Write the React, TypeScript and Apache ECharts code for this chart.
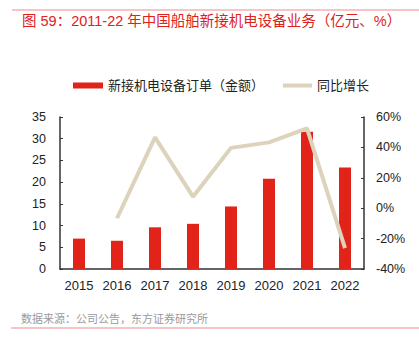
import React, { useEffect, useRef } from "react";
import * as echarts from "echarts";

const years = ["2015", "2016", "2017", "2018", "2019", "2020", "2021", "2022"];
const orders = [7.0, 6.5, 9.6, 10.4, 14.4, 20.8, 31.6, 23.4];
const growth = [null, -6.6, 46.6, 7.6, 39.7, 43.3, 52.5, -26.2];

const titleText = "图 59：2011-22 年中国船舶新接机电设备业务（亿元、%）";
const sourceText = "数据来源：公司公告，东方证券研究所";
const barName = "新接机电设备订单（金额）";
const lineName = "同比增长";

const FONT = "'Liberation Sans', Arial, 'Noto Sans CJK SC', sans-serif";

export default function App() {
  const ref = useRef<HTMLDivElement>(null);
  useEffect(() => {
    const chart = echarts.init(ref.current!, null, { renderer: "svg" });
    chart.setOption({
      animation: false,
      textStyle: { fontFamily: FONT },
      graphic: [
        { type: "line", shape: { x1: 12, y1: 10, x2: 419, y2: 10 }, style: { stroke: "#EE8A8A", lineWidth: 1 } },
        { type: "line", shape: { x1: 11, y1: 328, x2: 419, y2: 328 }, style: { stroke: "#EE8A8A", lineWidth: 1 } },
        {
          type: "text", left: 22, top: 13.5,
          style: { text: titleText, fill: "#E0201B", font: `14.5px ${FONT}` },
        },
        {
          type: "text", left: 21, top: 313,
          style: { text: sourceText, fill: "#9A9A9A", font: `11px ${FONT}` },
        },
      ],
      legend: [
        {
          left: 73, top: 79, padding: 0, itemWidth: 30, itemHeight: 6, icon: "rect",
          data: [barName], textStyle: { fontSize: 13, color: "#222", fontFamily: FONT },
        },
        {
          left: 283, top: 79, padding: 0, itemWidth: 29, itemHeight: 4, icon: "rect",
          data: [lineName], textStyle: { fontSize: 13, color: "#222", fontFamily: FONT },
        },
      ],
      grid: { left: 60, right: 55, top: 117, bottom: 81 },
      xAxis: {
        type: "category",
        data: years,
        axisLine: { lineStyle: { color: "#333", width: 1.5 } },
        axisTick: { inside: true, length: 4, lineStyle: { color: "#333" } },
        axisLabel: { color: "#222", fontSize: 13, margin: 10 },
      },
      yAxis: [
        {
          type: "value", min: 0, max: 35, interval: 5,
          axisLine: { show: true, lineStyle: { color: "#333", width: 1.5 } },
          axisTick: { show: true, inside: true, length: 3, lineStyle: { color: "#333" } },
          splitLine: { show: false },
          axisLabel: { color: "#222", fontSize: 12.5, margin: 14 },
        },
        {
          type: "value", min: -40, max: 60, interval: 20,
          axisLine: { show: true, lineStyle: { color: "#333", width: 1.5 } },
          axisTick: { show: true, inside: true, length: 3, lineStyle: { color: "#333" } },
          splitLine: { show: false },
          axisLabel: { color: "#222", fontSize: 12.5, margin: 12, formatter: "{value}%" },
        },
      ],
      series: [
        {
          name: barName, type: "bar", data: orders, barWidth: 12,
          itemStyle: { color: "#E2231A" },
        },
        {
          name: lineName, type: "line", yAxisIndex: 1, data: growth,
          showSymbol: false, symbol: "none",
          lineStyle: { color: "#DDD3BC", width: 4 },
          itemStyle: { color: "#DDD3BC" },
        },
      ],
    });
    return () => chart.dispose();
  }, []);
  return <div ref={ref} style={{ width: 419, height: 350, position: "absolute", left: 0, top: 0 }} />;
}
